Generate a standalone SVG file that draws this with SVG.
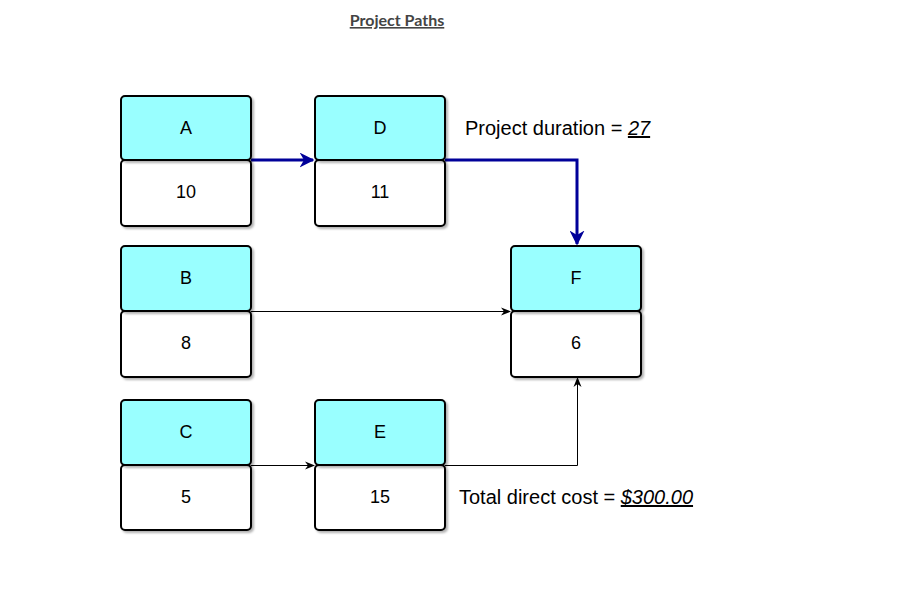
<svg xmlns="http://www.w3.org/2000/svg" width="900" height="602" viewBox="0 0 900 602">
<defs>
<filter id="sh" x="-10%" y="-10%" width="130%" height="130%"><feDropShadow dx="2" dy="2" stdDeviation="0.8" flood-color="#000" flood-opacity="0.3"/></filter>
<marker id="ab" viewBox="0 0 10 10" refX="9" refY="5" markerWidth="5" markerHeight="5" orient="auto" markerUnits="strokeWidth"><path d="M0,0 L10,5 L0,10 L3,5 z" fill="#000099"/></marker>
<marker id="ak" viewBox="0 0 10 10" refX="9" refY="5" markerWidth="10" markerHeight="10" orient="auto" markerUnits="strokeWidth"><path d="M0,1 L10,5 L0,9 L3,5 z" fill="#000"/></marker>
</defs>
<style>
.top{fill:#99ffff;stroke:#000;stroke-width:2;filter:url(#sh)}
.bot{fill:#fff;stroke:#000;stroke-width:2;filter:url(#sh)}
.lbl{font-family:"Liberation Sans",Arial,sans-serif;font-size:18px;fill:#000;text-anchor:middle;dominant-baseline:central}
.blue{fill:none;stroke:#000099;stroke-width:3}
.thin{fill:none;stroke:#000;stroke-width:1}
.note{font-family:"Liberation Sans",Arial,sans-serif;font-size:20px;fill:#000}
</style>
<text x="397" y="26" text-anchor="middle" font-family="Lato,sans-serif" font-size="16" font-weight="bold" fill="#444" text-decoration="underline">Project Paths</text>
<g id="connectors">
<path class="blue" d="M251,160 L313,160" marker-end="url(#ab)"/>
<path class="blue" d="M445,160 L577,160 L577,244" marker-end="url(#ab)"/>
<path class="thin" d="M251,311.5 L510,311.5" marker-end="url(#ak)"/>
<path class="thin" d="M251,465.5 L314,465.5" marker-end="url(#ak)"/>
<path class="thin" d="M445,465.5 L577.5,465.5 L577.5,378" marker-end="url(#ak)"/>
</g>
<g id="A"><rect class="bot" x="121" y="160" width="130" height="66" rx="4"/><rect class="top" x="121" y="96" width="130" height="64" rx="4"/><text class="lbl" x="186" y="128">A</text><text class="lbl" x="186" y="192">10</text></g>
<g id="D"><rect class="bot" x="315" y="160" width="130" height="66" rx="4"/><rect class="top" x="315" y="96" width="130" height="64" rx="4"/><text class="lbl" x="380" y="128">D</text><text class="lbl" x="380" y="192">11</text></g>
<g id="B"><rect class="bot" x="121" y="311" width="130" height="66" rx="4"/><rect class="top" x="121" y="246" width="130" height="65" rx="4"/><text class="lbl" x="186" y="278">B</text><text class="lbl" x="186" y="343">8</text></g>
<g id="F"><rect class="bot" x="511" y="311" width="130" height="66" rx="4"/><rect class="top" x="511" y="246" width="130" height="65" rx="4"/><text class="lbl" x="576" y="278">F</text><text class="lbl" x="576" y="343">6</text></g>
<g id="C"><rect class="bot" x="121" y="465" width="130" height="65" rx="4"/><rect class="top" x="121" y="400" width="130" height="65" rx="4"/><text class="lbl" x="186" y="432">C</text><text class="lbl" x="186" y="497">5</text></g>
<g id="E"><rect class="bot" x="315" y="465" width="130" height="65" rx="4"/><rect class="top" x="315" y="400" width="130" height="65" rx="4"/><text class="lbl" x="380" y="432">E</text><text class="lbl" x="380" y="497">15</text></g>
<text class="note" x="465" y="135">Project duration = <tspan text-decoration="underline" font-style="italic">27</tspan></text>
<text class="note" x="459" y="504">Total direct cost = <tspan text-decoration="underline" font-style="italic">$300.00</tspan></text>
</svg>
